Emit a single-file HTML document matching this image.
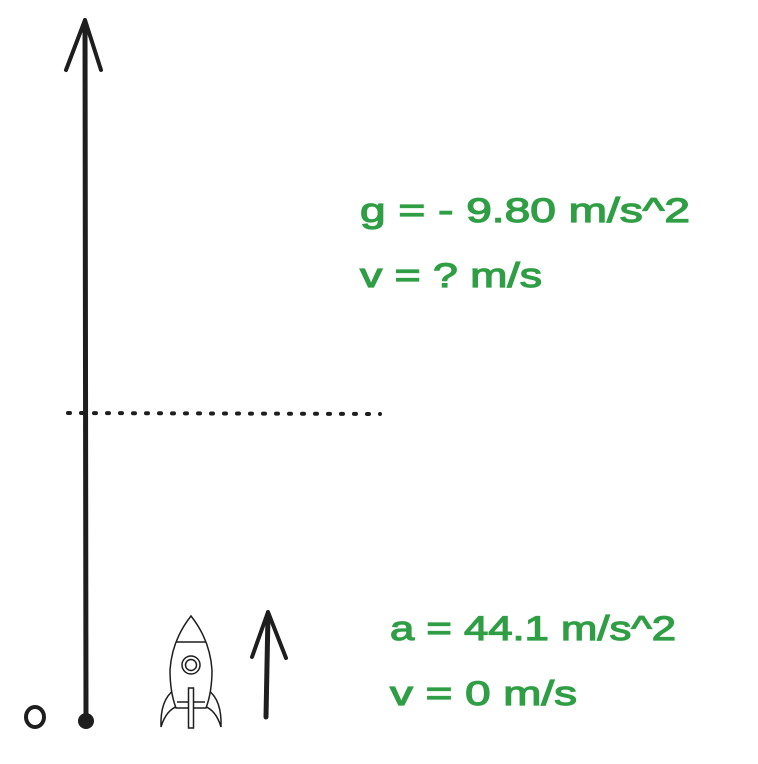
<!DOCTYPE html>
<html><head><meta charset="utf-8"><style>
html,body{margin:0;padding:0;background:#fff}
svg{display:block}
text{font-family:"Liberation Sans",sans-serif;fill:#2f9e44;stroke:#2f9e44;stroke-width:1.2;font-size:34px}
</style></head><body>
<svg width="758" height="764" viewBox="0 0 758 764">
<rect width="758" height="764" fill="#fff"/>
<g stroke="#1e1e1e" stroke-linecap="round" fill="none">
<path d="M86 720 L85 22" stroke-width="5"/>
<path d="M85 20 L66 70 M85 20 L101 70" stroke-width="4"/>
</g>
<circle cx="86" cy="721" r="8" fill="#1e1e1e"/>
<ellipse cx="35" cy="717" rx="9" ry="10" fill="none" stroke="#1e1e1e" stroke-width="4"/>
<line x1="68" y1="413" x2="380" y2="414" stroke="#1e1e1e" stroke-width="4" stroke-dasharray="2 11" stroke-linecap="round"/>
<g stroke="#1e1e1e" stroke-linecap="round" fill="none">
<path d="M266 717 L268 614" stroke-width="5"/>
<path d="M268 612 L252 657 M268 612 L286 658" stroke-width="4"/>
</g>
<g fill="#fff" stroke="#1e1e1e" stroke-width="1.5">
<path d="M174 690 Q160 700 161 727 Q166 710 178 706 Z"/>
<path d="M208 690 Q222 700 221 727 Q216 710 204 706 Z"/>
<path d="M191 616 Q172 640 170 670 Q170 692 176 708 L206 708 Q212 692 212 670 Q210 640 191 616 Z"/>
<line x1="176" y1="642" x2="206" y2="642"/>
<line x1="177" y1="702" x2="205" y2="702"/>
<circle cx="191" cy="665" r="9"/>
<circle cx="191" cy="665" r="5.5"/>
<rect x="188.5" y="688" width="5" height="40"/>
</g>
<text x="360" y="222" textLength="330" lengthAdjust="spacingAndGlyphs">g = - 9.80 m/s^2</text>
<text x="360" y="287" textLength="182" lengthAdjust="spacingAndGlyphs">v = ? m/s</text>
<text x="390" y="640" textLength="286" lengthAdjust="spacingAndGlyphs">a = 44.1 m/s^2</text>
<text x="390" y="705" textLength="187" lengthAdjust="spacingAndGlyphs">v = 0 m/s</text>
</svg>
</body></html>
